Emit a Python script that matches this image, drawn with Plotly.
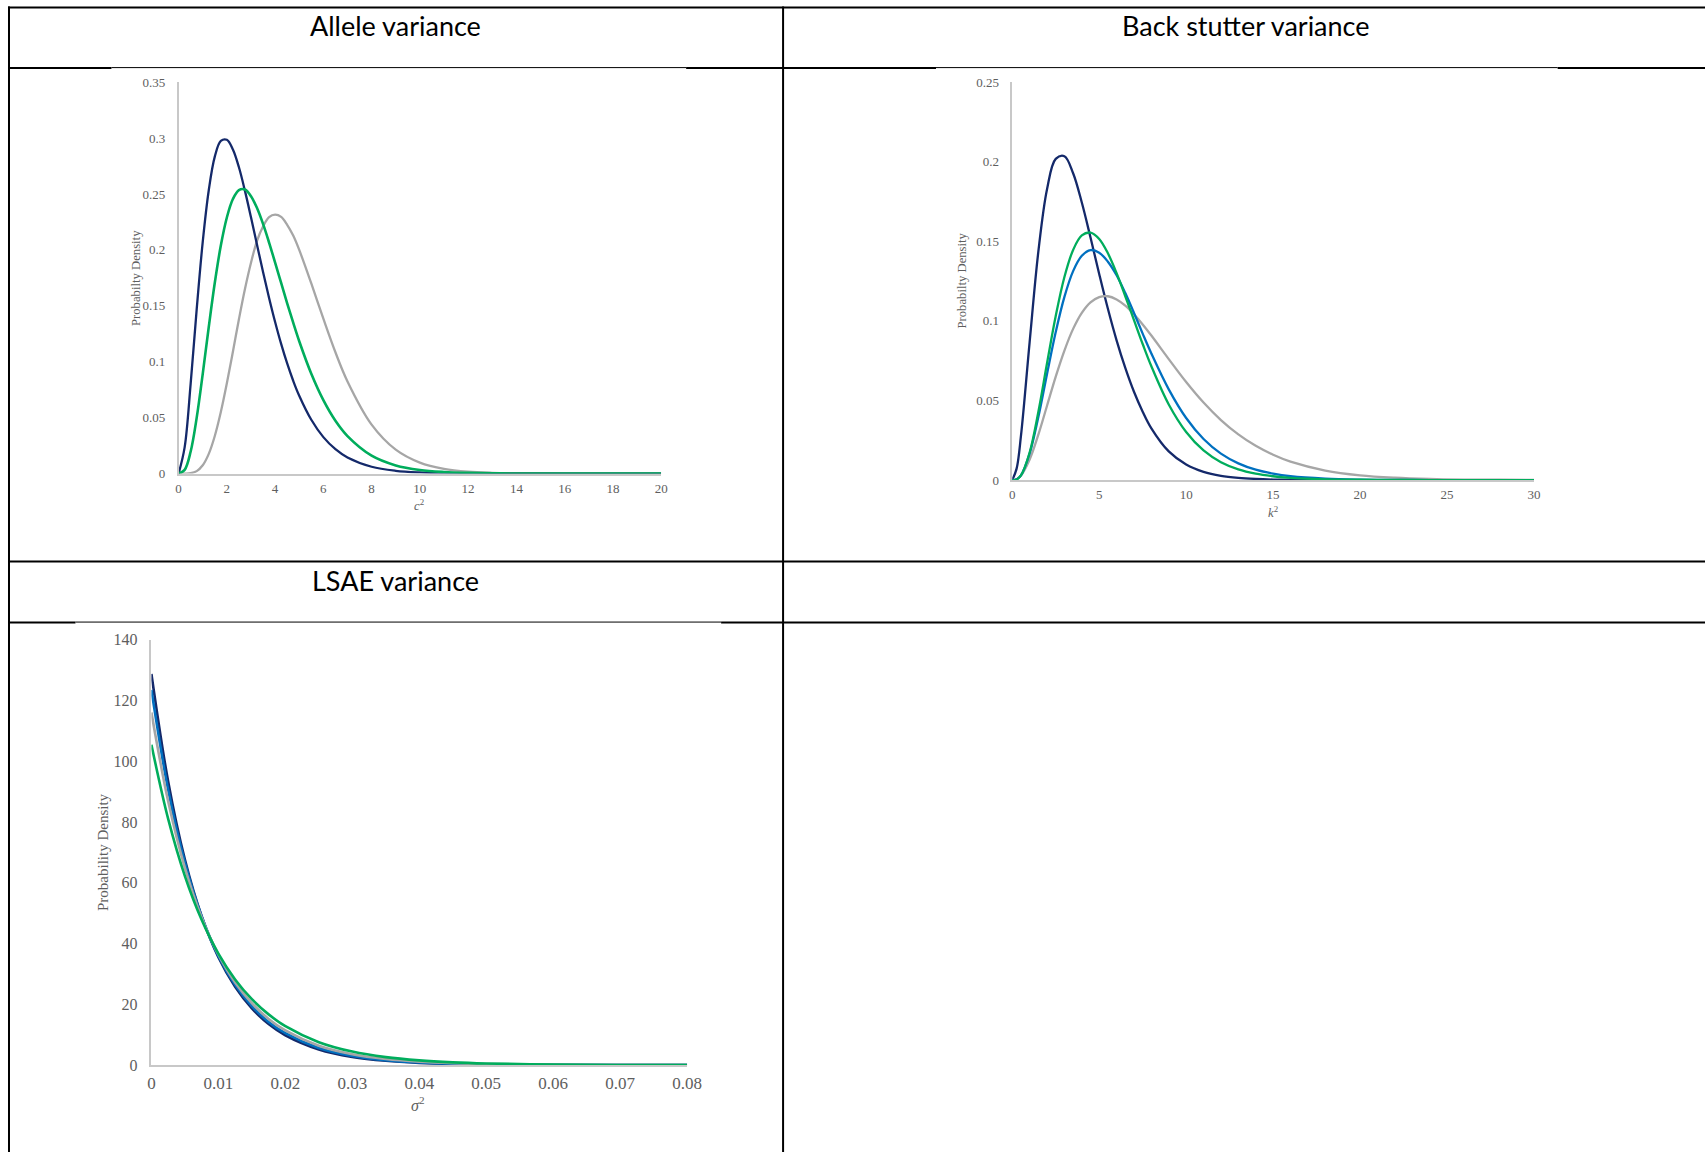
import plotly.graph_objects as go

# The page is photographed with a small, fixed offset/scale relative to the
# figure (body margin + resize).  Positions below are given in the target
# picture's pixels (1705x1152) and mapped back through that transform.
AX, BX = 2.5, 0.9895
AY, BY = 7.4, 0.9855
W, H = 1721, 1168
TW, TH = 1705, 1152

# ---------------- data ----------------
# Allele variance (c^2)
allele_x = [0, 0.25, 0.5, 0.75, 1, 1.25, 1.5, 1.75, 2, 2.25, 2.5, 2.75, 3, 3.25, 3.5, 3.75,
            4, 4.25, 4.5, 4.75, 5, 5.5, 6, 6.5, 7, 8, 9, 10, 11, 12, 13, 14, 16, 18, 20]
allele_navy = [0, 0.0234, 0.0805, 0.1470, 0.2072, 0.2534, 0.2834, 0.2975, 0.2985, 0.2898,
               0.2739, 0.2528, 0.2292, 0.2046, 0.1803, 0.1571, 0.1356, 0.1160, 0.0985,
               0.0830, 0.0696, 0.0481, 0.0326, 0.0218, 0.0144, 0.0061, 0.0025, 0.0010,
               0.0004, 0.0001, 0, 0, 0, 0, 0]
allele_green = [0, 0.0033, 0.0197, 0.0500, 0.0892, 0.1311, 0.1706, 0.2039, 0.2290, 0.2455,
                0.2535, 0.2540, 0.2481, 0.2375, 0.2233, 0.2066, 0.1887, 0.1705, 0.1522,
                0.1349, 0.1183, 0.0892, 0.0656, 0.0472, 0.0335, 0.0160, 0.0073, 0.0032,
                0.0014, 0.0006, 0.0002, 0.0001, 0, 0, 0]
allele_gray = [0, 0, 0.0003, 0.0022, 0.0074, 0.0176, 0.0336, 0.0550, 0.0807, 0.1090,
               0.1380, 0.1650, 0.1885, 0.2082, 0.2210, 0.2294, 0.2315, 0.2295, 0.2225,
               0.2128, 0.2000, 0.1700, 0.1385, 0.1085, 0.0824, 0.0438, 0.0214, 0.0098,
               0.0042, 0.0017, 0.0007, 0.0003, 0, 0, 0]

# Back stutter variance (k^2)
stutter_x = [0, 0.25, 0.5, 1, 1.5, 2, 2.5, 3, 3.5, 4, 4.5, 5, 5.5, 6, 6.5, 7, 7.5, 8,
             9, 10, 11, 12, 13, 14, 15, 16, 18, 20, 22, 24, 26, 28, 30]
stutter_navy = [0, 0.0072, 0.0277, 0.0867, 0.1435, 0.1828, 0.2018, 0.2035, 0.1928, 0.1744,
                0.1524, 0.1295, 0.1076, 0.0878, 0.0705, 0.0555, 0.0430, 0.0325, 0.0180,
                0.0098, 0.0052, 0.0027, 0.0014, 0.0007, 0.0003, 0.0001, 0, 0, 0, 0, 0, 0, 0]
stutter_green = [0, 0.0004, 0.0029, 0.0173, 0.0428, 0.0734, 0.1031, 0.1276, 0.1446, 0.1537,
                 0.1555, 0.1515, 0.1425, 0.1300, 0.1155, 0.1005, 0.0855, 0.0715, 0.0475,
                 0.0302, 0.0186, 0.0112, 0.0067, 0.0040, 0.0024, 0.0014, 0.0005, 0.0002,
                 0.0001, 0, 0, 0, 0]
stutter_blue = [0, 0.0005, 0.0030, 0.0167, 0.0396, 0.0667, 0.0930, 0.1151, 0.1313, 0.1409,
                0.1445, 0.1429, 0.1372, 0.1287, 0.1175, 0.1050, 0.0920, 0.0795, 0.0570,
                0.0390, 0.0258, 0.0166, 0.0105, 0.0065, 0.0040, 0.0024, 0.0009, 0.0003,
                0.0001, 0, 0, 0, 0]
stutter_gray = [0, 0.0005, 0.0028, 0.0129, 0.0285, 0.0467, 0.0650, 0.0814, 0.0950, 0.1051,
                0.1117, 0.1150, 0.1155, 0.1135, 0.1096, 0.1042, 0.0978, 0.0908, 0.0760,
                0.0616, 0.0487, 0.0377, 0.0287, 0.0215, 0.0159, 0.0116, 0.0060, 0.0030,
                0.0015, 0.0007, 0.0003, 0.0002, 0.0001]

# LSAE variance (sigma^2)
lsae_x = [0, 0.0025, 0.005, 0.0075, 0.01, 0.0125, 0.015, 0.0175, 0.02, 0.025, 0.03,
          0.035, 0.04, 0.045, 0.05, 0.06, 0.07, 0.08]
lsae_navy = [128.7, 93.3, 67.6, 49.0, 35.5, 25.8, 18.7, 13.5, 9.81, 5.16, 2.71, 1.42,
             0.75, 0.39, 0.21, 0.06, 0.016, 0.004]
lsae_blue = [123.4, 90.6, 66.6, 48.9, 35.9, 26.4, 19.4, 14.2, 10.5, 5.64, 3.04, 1.64,
             0.89, 0.48, 0.26, 0.076, 0.022, 0.006]
lsae_gray = [116.0, 86.8, 64.9, 48.6, 36.4, 27.2, 20.4, 15.2, 11.4, 6.38, 3.57, 2.0,
             1.12, 0.63, 0.35, 0.11, 0.035, 0.011]
lsae_green = [105.4, 81.0, 62.2, 47.8, 36.7, 28.2, 21.7, 16.7, 12.8, 7.56, 4.46, 2.63,
              1.56, 0.92, 0.54, 0.19, 0.066, 0.023]

headers = ["Allele variance", "Back stutter variance", "LSAE variance"]

NAVY = "#14296a"
GREEN = "#00ad5c"
BLUE = "#0070c0"
GRAY = "#a6a6a6"
TICK = "#5e5e5e"
AXIS = "#c8c8c8"
SERIF = "Liberation Serif"


def px_x(v):
    return ((v - AX) / BX) / W


def px_y(v):
    return 1 - ((v - AY) / BY) / H


fig = go.Figure()


def add(x, y, color, width, xa, ya):
    fig.add_trace(go.Scatter(x=x, y=y, mode="lines", xaxis=xa, yaxis=ya,
                             line=dict(color=color, width=width, shape="spline", smoothing=1.0),
                             showlegend=False, hoverinfo="skip"))


add(allele_x, allele_gray, GRAY, 2.3, "x", "y")
add(allele_x, allele_navy, NAVY, 2.3, "x", "y")
add(allele_x, allele_green, GREEN, 2.6, "x", "y")

add(stutter_x, stutter_navy, NAVY, 2.3, "x2", "y2")
add(stutter_x, stutter_gray, GRAY, 2.3, "x2", "y2")
add(stutter_x, stutter_blue, BLUE, 2.3, "x2", "y2")
add(stutter_x, stutter_green, GREEN, 2.3, "x2", "y2")

add(lsae_x, lsae_navy, NAVY, 2.6, "x3", "y3")
add(lsae_x, lsae_blue, BLUE, 2.6, "x3", "y3")
add(lsae_x, lsae_gray, GRAY, 2.6, "x3", "y3")
add(lsae_x, lsae_green, GREEN, 2.6, "x3", "y3")


def xaxis(dom, rng, dtick, size, standoff, anchor):
    return dict(domain=[px_x(dom[0]), px_x(dom[1])], range=rng, dtick=dtick, tick0=0,
                showgrid=False, zeroline=False, showline=True, linecolor=AXIS, linewidth=1.5,
                ticks="", ticklabelstandoff=standoff, anchor=anchor,
                tickfont=dict(family=SERIF, size=size, color=TICK), fixedrange=True)


def yaxis(top, bottom, rng, dtick, size, standoff, anchor):
    return dict(domain=[px_y(bottom), px_y(top)], range=rng, dtick=dtick, tick0=0,
                showgrid=False, zeroline=False, showline=True, linecolor=AXIS, linewidth=1.5,
                ticks="", ticklabelstandoff=standoff, anchor=anchor,
                tickfont=dict(family=SERIF, size=size, color=TICK), fixedrange=True)


fig.update_layout(
    width=W, height=H, margin=dict(l=0, r=0, t=0, b=0),
    paper_bgcolor="white", plot_bgcolor="white", showlegend=False,
    xaxis=xaxis((177.2, 660), [0, 20], 2, 13, 2, "y"),
    yaxis=yaxis(81.6, 473, [0, 0.35], 0.05, 13, 9, "x"),
    xaxis2=xaxis((1011.3, 1533.3), [0, 30], 5, 13, 2, "y2"),
    yaxis2=yaxis(81.6, 479.5, [0, 0.25], 0.05, 13, 9, "x2"),
    xaxis3=xaxis((150, 686), [0, 0.08], 0.01, 17, 2, "y3"),
    yaxis3=yaxis(639, 1064.6, [0, 140], 20, 16, 9, "x3"),
)

ann = []


def text(x, y, s, size, family, color="black", angle=0):
    ann.append(dict(x=px_x(x), y=px_y(y), xref="paper", yref="paper", text=s,
                    showarrow=False, textangle=angle, xanchor="center", yanchor="middle",
                    font=dict(family=family, size=size, color=color)))


text(394, 25, headers[0], 27, "Lato")
text(1245, 25, headers[1], 27, "Lato")
text(394, 580, headers[2], 27, "Lato")

text(134, 277, "Probabilty Density", 12.7, SERIF, TICK, -90)
text(961, 280, "Probabilty Density", 12.7, SERIF, TICK, -90)
text(101, 851, "Probability Density", 15, SERIF, TICK, -90)

text(417.6, 504, "<i>c</i><sup>2</sup>", 12.7, SERIF, TICK)
text(1272, 511, "<i>k</i><sup>2</sup>", 12.7, SERIF, TICK)
text(416.5, 1103, "<i>σ</i><sup>2</sup>", 16, SERIF, TICK)

fig.update_layout(annotations=ann)

shapes = []


def hline(y, x0, x1, w=2):
    shapes.append(dict(type="line", xref="paper", yref="paper", x0=px_x(x0), x1=px_x(x1),
                       y0=px_y(y), y1=px_y(y), line=dict(color="black", width=w)))


def vline(x, y0, y1, w=2):
    shapes.append(dict(type="line", xref="paper", yref="paper", x0=px_x(x), x1=px_x(x),
                       y0=px_y(y0), y1=px_y(y1), line=dict(color="black", width=w)))


hline(7, 6.5, TW + 20)
vline(7.5, 6, TH + 20)
vline(782, 6, TH + 20)
# header bottom of row 1 (thinner where the chart pictures sit)
hline(67.5, 6.5, 110)
hline(67, 110, 685, 1)
hline(67.5, 685, 935)
hline(67, 935, 1557, 1)
hline(67.5, 1557, TW + 20)
hline(561, 6.5, TW + 20)
hline(622, 6.5, 74)
hline(621.5, 74, 720, 1)
hline(622, 720, TW + 20)

fig.update_layout(shapes=shapes)

fig.write_html("out.html")
